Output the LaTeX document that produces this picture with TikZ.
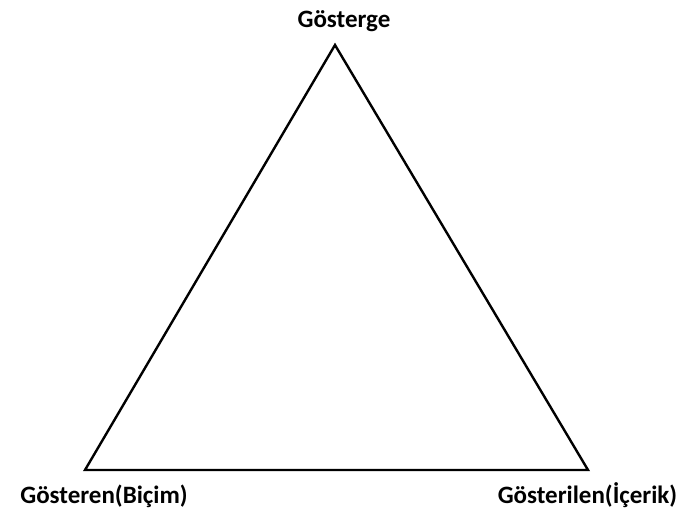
\documentclass[tikz,border=0pt]{standalone}
\usepackage{fontspec}
\setmainfont{Carlito}
\begin{document}
\begin{tikzpicture}[x=1pt,y=-1pt,
  lbl/.style={font=\fontsize{25}{29}\selectfont\bfseries, inner sep=0pt, anchor=base}]
\useasboundingbox (0,0) rectangle (693,510);
\coordinate (top) at (335,45);
\coordinate (bl) at (85,470);
\coordinate (br) at (588,470);
\draw[line width=2.4pt, line join=miter] (top) -- (bl) -- (br) -- cycle;
\node[lbl] (g) at (344,28) {Gösterge};
\node[lbl] (l) at (104,503) {Gösteren(Biçim)};
\node[lbl] (r) at (587.5,503) {Gösterilen(İçerik)};
\end{tikzpicture}
\end{document}
